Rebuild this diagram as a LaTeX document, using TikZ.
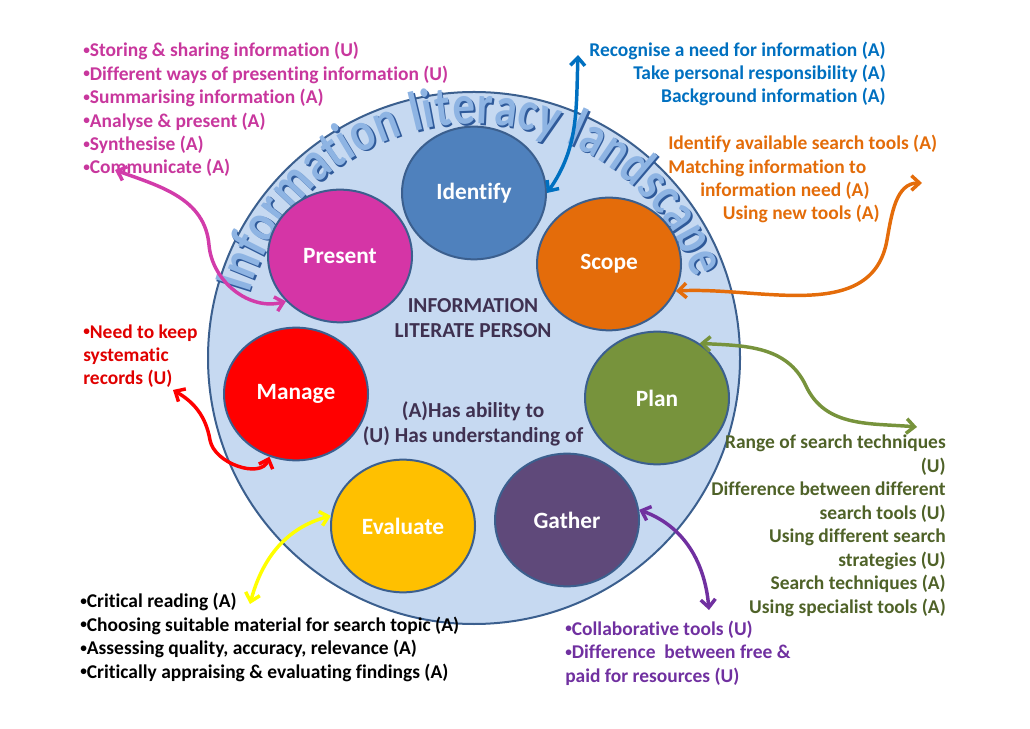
\documentclass[tikz,border=0pt]{standalone}
\usepackage{fontspec}
\setmainfont{Carlito}[Ligatures=NoCommon]
\newfontfamily\arcfont{Carlito}[FakeStretch=0.8,Ligatures=NoCommon]
\usetikzlibrary{shapes.geometric,arrows.meta,decorations.text}

\definecolor{rim}{HTML}{3B5F8E}
\definecolor{landfill}{HTML}{C6D9F1}
\definecolor{wordshade}{HTML}{2F5A9A}
\definecolor{wordfill}{HTML}{8EB4E3}
\definecolor{identifyfill}{HTML}{4F81BD}
\definecolor{presentfill}{HTML}{D535A6}
\definecolor{scopefill}{HTML}{E46C0A}
\definecolor{managefill}{HTML}{FF0000}
\definecolor{planfill}{HTML}{77933C}
\definecolor{gatherfill}{HTML}{5F497A}
\definecolor{evaluatefill}{HTML}{FFC000}
\definecolor{presenttext}{HTML}{C8379D}
\definecolor{identifytext}{HTML}{0070C0}
\definecolor{scopetext}{HTML}{E36C09}
\definecolor{managetext}{HTML}{E00000}
\definecolor{plantext}{HTML}{4F6228}
\definecolor{gathertext}{HTML}{7030A0}
\definecolor{coretext}{HTML}{3F3151}
\definecolor{presentline}{HTML}{D23CAA}
\definecolor{evaluateline}{HTML}{FFFF00}

\newcommand{\smallbullet}{\raisebox{.12em}{\fontsize{10}{10}\selectfont •}}

\begin{document}
\begin{tikzpicture}[x=0.75pt,y=0.75pt,
   stage/.style={ellipse,draw=rim,line width=1.5pt,minimum width=108pt,minimum height=99.5pt,
      inner sep=0pt,text=white,font=\fontsize{17.5}{21}\selectfont\bfseries},
   notes/.style={inner sep=0pt,font=\fontsize{14.6}{17.6}\selectfont\bfseries},
   core/.style={inner sep=0pt,align=center,anchor=base,text=coretext,
      font=\fontsize{16}{18.8}\selectfont\bfseries},
   flow/.style={line width=2.6pt,line cap=round,>={Straight Barb[length=6pt,width=11pt]},<->}]
   \useasboundingbox (0,0) rectangle (1030,728);

   \node[circle,draw=rim,fill=landfill,line width=1.5pt,minimum size=399pt,inner sep=0pt] (land) at (474,370) {};

   \path[decorate,decoration={text along path,text align=fit to path,
      text={|\fontsize{42}{42}\arcfont\bfseries\color{wordshade}|Information literacy landscape}}]
      ([shift={(1.8,-1.8)}]land.center) ++(164:234) arc[start angle=164,end angle=20,radius=234];
   \path[decorate,decoration={text along path,text align=fit to path,
      text={|\fontsize{42}{42}\arcfont\bfseries\color{wordfill}|Information literacy landscape}}]
      (land.center) ++(164:234) arc[start angle=164,end angle=20,radius=234];

   \node[stage,fill=identifyfill] (identify) at (474,535) {Identify};
   \node[stage,fill=presentfill] (present) at (340,472) {Present};
   \node[stage,fill=scopefill] (scope) at (609,464) {Scope};
   \node[stage,fill=managefill] (manage) at (296,334) {Manage};
   \node[stage,fill=planfill] (plan) at (657,330) {Plan};
   \node[stage,fill=gatherfill] (gather) at (567,208) {Gather};
   \node[stage,fill=evaluatefill] (evaluate) at (403,202) {Evaluate};

   \node[core] (person) at (473,390) {INFORMATION\\LITERATE PERSON};
   \node[core] (key) at (473,285) {(A)Has ability to\\(U) Has understanding of};

   \node[notes,text=presenttext,align=left,anchor=base west] (presentnotes) at (83,554)
      {\smallbullet Storing \& sharing information (U)\\\smallbullet Different ways of presenting information (U)\\
       \smallbullet Summarising information (A)\\\smallbullet Analyse \& present (A)\\
       \smallbullet Synthesise (A)\\\smallbullet Communicate (A)};
   \node[notes,text=identifytext,align=right,anchor=base east] (identifynotes) at (886,625)
      {Recognise a need for information (A)\\Take personal responsibility (A)\\Background information (A)};
   \node[notes,text=scopetext,align=left,anchor=base west] (scopenotes) at (668,508)
      {Identify available search tools (A)\\Matching information to\\
       \hspace*{24pt}information need (A)\\\hspace*{41pt}Using new tools (A)};
   \node[notes,text=managetext,align=left,anchor=base west] (managenotes) at (83,343)
      {\smallbullet Need to keep\\systematic\\records (U)};
   \node[notes,text=plantext,align=right,anchor=base east] (plannotes) at (946,115)
      {Range of search techniques\\(U)\\Difference between different\\search tools (U)\\
       Using different search\\strategies (U)\\Search techniques (A)\\Using specialist tools (A)};
   \node[notes,text=gathertext,align=left,anchor=base west] (gathernotes) at (565,46)
      {\smallbullet Collaborative tools (U)\\\smallbullet Difference~ between free \&\\paid for resources (U)};
   \node[notes,text=black,align=left,anchor=base west] (evaluatenotes) at (80,50)
      {\smallbullet Critical reading (A)\\\smallbullet Choosing suitable material for search topic (A)\\
       \smallbullet Assessing quality, accuracy, relevance (A)\\\smallbullet Critically appraising \& evaluating findings (A)};

   \coordinate (commtip) at (115,558);
   \coordinate (ptwist) at (209,483);
   \coordinate (idtip) at (578,673);
   \coordinate (sctwist) at (887,488);
   \coordinate (sctip) at (922,545);
   \coordinate (plbend) at (806,342);
   \coordinate (pltip) at (917,301);
   \coordinate (gatip) at (709,118);
   \coordinate (evtip) at (250,124);
   \coordinate (mgtip) at (173,338);
   \coordinate (mgbend) at (210,288);

   \draw[flow,presentline] (commtip) to[out=-20,in=95] (ptwist) to[out=-85,in=195] (present.220);
   \draw[flow,identifytext] (identify.east) to[out=55,in=-92] (idtip);
   \draw[flow,scopefill] (scope.-22) to[out=3,in=-100] (sctwist) to[out=80,in=180] (sctip);
   \draw[flow,planfill] (plan.52) to[out=-3,in=115] (plbend) to[out=-65,in=175] (pltip);
   \draw[flow,gathertext] (gather.8) to[out=-20,in=95] (gatip);
   \draw[flow,evaluateline] (evaluate.172) to[out=195,in=75] (evtip);
   \draw[flow,managefill] (mgtip) to[out=-30,in=100] (mgbend) to[out=-80,in=-110] (manage.247);
\end{tikzpicture}
\end{document}
